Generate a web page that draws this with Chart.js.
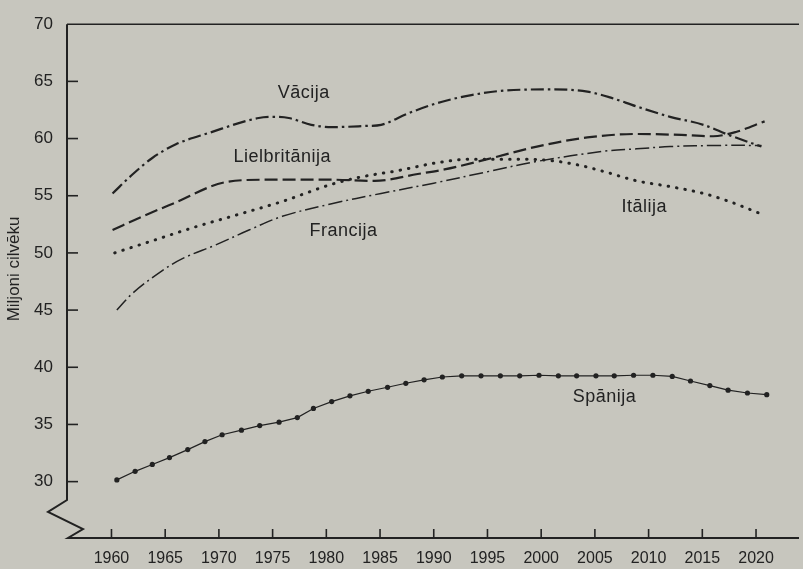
<!DOCTYPE html>
<html>
<head>
<meta charset="utf-8">
<script src="https://cdn.jsdelivr.net/npm/chart.js@4.4.1/dist/chart.umd.min.js"></script>
<style>
  html, body { margin: 0; padding: 0; background: #c7c6be; }
  #wrap { width: 803px; height: 569px; position: relative; }
</style>
</head>
<body>
<div id="wrap"><canvas id="chart"></canvas></div>
<script>
'use strict';

// ticks
const xTicks = [1960, 1965, 1970, 1975, 1980, 1985, 1990, 1995, 2000, 2005, 2010, 2015, 2020];
const yTicks = [30, 35, 40, 45, 50, 55, 60, 65, 70];

// Vācija
const deYears = [1960.1, 1962, 1963.8, 1966, 1969.1, 1973.7, 1975, 1976.5, 1978.6, 1980.5, 1983.6, 1985.1, 1987.6, 1990.7, 1993.5, 1996.6, 2001.2, 2004.3, 2006.4, 2008.9, 2012, 2015.1, 2017.5, 2020.5];
const deValues = [55.2, 56.9, 58.3, 59.5, 60.5, 61.8, 61.9, 61.8, 61.2, 61.0, 61.1, 61.2, 62.2, 63.2, 63.8, 64.2, 64.3, 64.1, 63.6, 62.8, 61.9, 61.2, 60.3, 59.3];

// Lielbritānija
const ukYears = [1960.1, 1962.9, 1965.7, 1970.7, 1974.4, 1980.5, 1984.5, 1988.5, 1991, 1995, 1999.6, 2004.3, 2008.9, 2013.5, 2016, 2018.2, 2020.8];
const ukValues = [52.0, 53.2, 54.3, 56.2, 56.4, 56.4, 56.3, 56.9, 57.3, 58.2, 59.3, 60.1, 60.4, 60.3, 60.2, 60.6, 61.5];

// Itālija
const itYears = [1960.3, 1963.6, 1967.9, 1971.2, 1975.9, 1980.5, 1983, 1986.7, 1990.4, 1993.5, 1997, 2000.6, 2003.4, 2005.9, 2008.9, 2012, 2015.1, 2017.5, 2020.5];
const itValues = [50.0, 51.0, 52.3, 53.2, 54.5, 56.0, 56.6, 57.2, 57.9, 58.2, 58.2, 58.1, 57.7, 57.1, 56.3, 55.8, 55.2, 54.5, 53.4];

// Francija
const frYears = [1960.5, 1962, 1964.5, 1966.6, 1969.7, 1972.8, 1975.9, 1980.5, 1985.1, 1990, 1995, 1999.6, 2005.9, 2008.9, 2012, 2016.6, 2020.5];
const frValues = [45.0, 46.5, 48.3, 49.5, 50.7, 52.0, 53.2, 54.3, 55.2, 56.1, 57.1, 58.0, 58.9, 59.1, 59.3, 59.4, 59.4];

// Spānija
const esYears = [1960.5, 1962.2, 1963.8, 1965.4, 1967.1, 1968.7, 1970.3, 1972.1, 1973.8, 1975.6, 1977.3, 1978.8, 1980.5, 1982.2, 1983.9, 1985.7, 1987.4, 1989.1, 1990.8, 1992.6, 1994.4, 1996.2, 1998.0, 1999.8, 2001.6, 2003.3, 2005.1, 2006.8, 2008.6, 2010.4, 2012.2, 2013.9, 2015.7, 2017.4, 2019.2, 2021.0];
const esValues = [30.15, 30.9, 31.5, 32.1, 32.8, 33.5, 34.1, 34.5, 34.9, 35.2, 35.6, 36.4, 37.0, 37.5, 37.9, 38.25, 38.6, 38.9, 39.15, 39.25, 39.25, 39.25, 39.25, 39.3, 39.25, 39.25, 39.25, 39.25, 39.3, 39.3, 39.2, 38.8, 38.4, 38.0, 37.75, 37.6];

// country names and where they sit (year, value)
const names = ['Vācija', 'Lielbritānija', 'Francija', 'Itālija', 'Spānija'];
const nameYears = [1977.9, 1975.9, 1981.6, 2009.6, 2005.9];
const nameValues = [64.0, 58.35, 51.9, 54.0, 37.4];

const ink = '#222222';
const fontFam = '"Liberation Sans", Arial, sans-serif';

function pts(xs, ys) {
  let out = [];
  for (let i = 0; i < xs.length; i++) {
    out.push({ x: xs[i], y: ys[i] });
  }
  return out;
}

// paper background
const paper = {
  id: 'paper',
  beforeDraw(chart) {
    const ctx = chart.ctx;
    ctx.save();
    ctx.fillStyle = '#c7c6be';
    ctx.fillRect(0, 0, chart.width, chart.height);
    ctx.restore();
  }
};

// axes with the broken y axis, inward ticks, labels on the curves
const decor = {
  id: 'decor',
  beforeDatasetsDraw(chart) {
    const ctx = chart.ctx;
    const a = chart.chartArea;
    const x = chart.scales.x;
    const y = chart.scales.y;
    ctx.save();
    ctx.strokeStyle = ink;
    ctx.lineJoin = 'miter';
    ctx.lineWidth = 1.6;
    ctx.beginPath();
    ctx.moveTo(a.right, a.top);
    ctx.lineTo(a.left, a.top);
    ctx.stroke();
    ctx.lineWidth = 2;
    ctx.beginPath();
    ctx.moveTo(a.left, a.top);
    ctx.lineTo(a.left, a.bottom - 38);
    ctx.lineTo(a.left - 19, a.bottom - 26);
    ctx.lineTo(a.left + 16, a.bottom - 9);
    ctx.lineTo(a.left + 1, a.bottom);
    ctx.lineTo(a.right, a.bottom);
    ctx.stroke();
    ctx.lineWidth = 1.6;
    yTicks.forEach(v => {
      if (v >= 70) return;
      const py = y.getPixelForValue(v);
      ctx.beginPath();
      ctx.moveTo(a.left, py);
      ctx.lineTo(a.left + 11, py);
      ctx.stroke();
    });
    xTicks.forEach(v => {
      const px = x.getPixelForValue(v);
      ctx.beginPath();
      ctx.moveTo(px, a.bottom);
      ctx.lineTo(px, a.bottom - 9);
      ctx.stroke();
    });
    ctx.restore();
  },
  afterDatasetsDraw(chart) {
    const ctx = chart.ctx;
    const x = chart.scales.x;
    const y = chart.scales.y;
    ctx.save();
    ctx.fillStyle = ink;
    ctx.font = '18px ' + fontFam;
    ctx.letterSpacing = '0.5px';
    ctx.textAlign = 'center';
    ctx.textBaseline = 'middle';
    for (let i = 0; i < names.length; i++) {
      ctx.fillText(names[i], x.getPixelForValue(nameYears[i]), y.getPixelForValue(nameValues[i]));
    }
    // y axis title
    ctx.font = '17px ' + fontFam;
    ctx.letterSpacing = '0px';
    ctx.translate(14, y.getPixelForValue(48.6));
    ctx.rotate(-Math.PI / 2);
    ctx.fillText('Miljoni cilvēku', 0, 0);
    ctx.restore();
  }
};

function renderChart() {
  const ctx = document.getElementById('chart');

  let data = {
    datasets: [
      {
        label: 'Vācija',
        data: pts(deYears, deValues),
        borderColor: ink,
        borderWidth: 2.2,
        borderDash: [13, 4, 2.5, 4],
        cubicInterpolationMode: 'monotone',
        pointRadius: 0
      },
      {
        label: 'Lielbritānija',
        data: pts(ukYears, ukValues),
        borderColor: ink,
        borderWidth: 2.2,
        borderDash: [13, 5],
        cubicInterpolationMode: 'monotone',
        pointRadius: 0
      },
      {
        label: 'Itālija',
        data: pts(itYears, itValues),
        borderColor: ink,
        borderWidth: 3,
        borderDash: [0.5, 8],
        borderCapStyle: 'round',
        cubicInterpolationMode: 'monotone',
        pointRadius: 0
      },
      {
        label: 'Francija',
        data: pts(frYears, frValues),
        borderColor: ink,
        borderWidth: 1.5,
        borderDash: [14, 4, 2, 4],
        tension: 0.35,
        pointRadius: 0
      },
      {
        label: 'Spānija',
        data: pts(esYears, esValues),
        borderColor: ink,
        borderWidth: 1.2,
        tension: 0,
        pointRadius: 2.6,
        pointBackgroundColor: ink,
        pointBorderWidth: 0
      }
    ]
  };

  new Chart(ctx, {
    type: 'line',
    data: data,
    options: {
      responsive: true,
      maintainAspectRatio: false,
      animation: false,
      layout: { padding: { top: 18, right: 0, bottom: 0, left: 0 } },
      plugins: {
        legend: { display: false },
        tooltip: { enabled: false }
      },
      scales: {
        x: {
          type: 'linear',
          min: 1955.86,
          max: 2024,
          grid: { display: false, drawTicks: false },
          border: { display: false },
          afterBuildTicks: s => { s.ticks = xTicks.map(v => ({ value: v })); },
          afterFit: s => { s.height = 31; },
          ticks: {
            autoSkip: false,
            maxRotation: 0,
            padding: 11,
            color: ink,
            font: { family: fontFam, size: 16 },
            callback: v => String(v)
          }
        },
        y: {
          min: 25.07,
          max: 70,
          grid: { display: false, drawTicks: false },
          border: { display: false },
          afterBuildTicks: s => { s.ticks = yTicks.map(v => ({ value: v })); },
          afterFit: s => { s.width = 67; },
          ticks: {
            padding: 14,
            color: ink,
            font: { family: fontFam, size: 17 }
          }
        }
      }
    },
    plugins: [paper, decor]
  });
}
renderChart();
</script>
</body>
</html>
